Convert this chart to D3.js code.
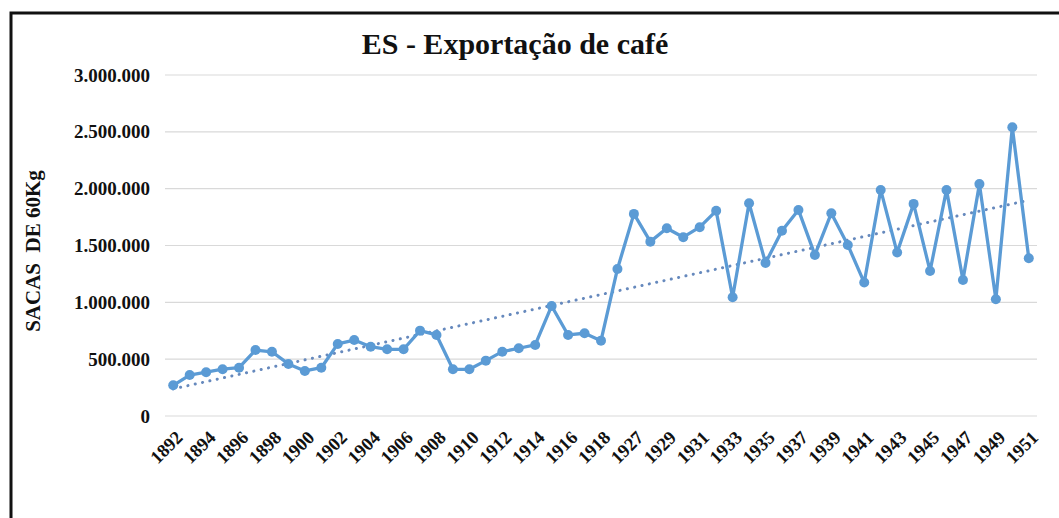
<!DOCTYPE html>
<html>
<head>
<meta charset="utf-8">
<script src="https://cdn.jsdelivr.net/npm/d3@7"></script>
<style>
  body { margin: 0; background: #fff; }
  text { font-family: "Liberation Serif", "Times New Roman", serif; font-weight: bold; fill: #111; }
</style>
</head>
<body>
<div id="chart"></div>
<script>
// Categories (years) and coffee exports in bags of 60 kg
const years = [
  "1892", "1893", "1894", "1895", "1896", "1897", "1898", "1899", "1900", "1901",
  "1902", "1903", "1904", "1905", "1906", "1907", "1908", "1909", "1910", "1911",
  "1912", "1913", "1914", "1915", "1916", "1917", "1918", "1919",
  "1927", "1928", "1929", "1930", "1931", "1932", "1933", "1934", "1935", "1936",
  "1937", "1938", "1939", "1940", "1941", "1942", "1943", "1944", "1945", "1946",
  "1947", "1948", "1949", "1950", "1951"
];
const sacas = [
  270000, 360000, 385000, 412000, 425000, 580000, 565000, 458000, 396000, 425000,
  634000, 668000, 610000, 587000, 587000, 751000, 713000, 411000, 411000, 487000,
  566000, 596000, 625000, 968000, 713000, 728000, 663000, 1294000,
  1778000, 1534000, 1652000, 1573000, 1661000, 1805000, 1045000, 1872000, 1347000, 1630000,
  1813000, 1417000, 1784000, 1505000, 1174000, 1989000, 1438000, 1866000, 1276000, 1989000,
  1197000, 2040000, 1027000, 2541000, 1388000
];
const yTicks = [0, 500000, 1000000, 1500000, 2000000, 2500000, 3000000];

const W = 1059, H = 518;
const svg = d3.select("#chart").append("svg")
    .attr("width", W)
    .attr("height", H);

// frame (only top and left edges fall inside the picture)
svg.append("rect")
    .attr("x", 11).attr("y", 13)
    .attr("width", 1200).attr("height", 800)
    .attr("fill", "none")
    .attr("stroke", "#111")
    .attr("stroke-width", 3);

const plot = { left: 165, right: 1037, top: 75, bottom: 416 };

const x = d3.scaleBand()
    .domain(years)
    .range([plot.left, plot.right]);

const y = d3.scaleLinear()
    .domain([0, 3000000])
    .range([plot.bottom, plot.top]);

const fmt = v => d3.format(",")(v).replace(/,/g, ".");

// gridlines
svg.append("g")
    .selectAll("line")
    .data(yTicks)
    .join("line")
    .attr("x1", plot.left).attr("x2", plot.right)
    .attr("y1", d => y(d)).attr("y2", d => y(d))
    .attr("stroke", "#d9d9d9")
    .attr("stroke-width", 1.2);

// y axis labels
svg.append("g")
    .selectAll("text")
    .data(yTicks)
    .join("text")
    .attr("x", 150)
    .attr("y", d => y(d))
    .attr("dy", "0.35em")
    .attr("text-anchor", "end")
    .style("font-size", "19px")
    .text(d => fmt(d));

// x axis labels, every other category
const cx = d => x(d) + x.bandwidth() / 2;
svg.append("g")
    .selectAll("text")
    .data(years.filter((d, i) => i % 2 === 0))
    .join("text")
    .attr("transform", d => `translate(${cx(d) + 6},${434}) rotate(-45)`)
    .attr("dy", "0.35em")
    .attr("text-anchor", "end")
    .style("font-size", "18.5px")
    .text(d => d);

// axis title
svg.append("text")
    .attr("transform", `translate(40,251) rotate(-90)`)
    .attr("text-anchor", "middle")
    .style("font-size", "21px")
    .style("white-space", "pre")
    .text("SACAS  DE 60Kg");

// chart title
svg.append("text")
    .attr("x", 515)
    .attr("y", 54)
    .attr("text-anchor", "middle")
    .style("font-size", "30px")
    .text("ES - Exportação de café");

// linear trendline over category index
const idx = sacas.map((d, i) => i);
const mx = d3.mean(idx), my = d3.mean(sacas);
const slope = d3.sum(idx, i => (i - mx) * (sacas[i] - my)) / d3.sum(idx, i => (i - mx) * (i - mx));
const icpt = my - slope * mx;
const last = years.length - 1;

svg.append("line")
    .attr("x1", cx(years[0])).attr("y1", y(icpt))
    .attr("x2", cx(years[last])).attr("y2", y(icpt + slope * last))
    .attr("stroke", "#6689bd")
    .attr("stroke-width", 3)
    .attr("stroke-linecap", "round")
    .attr("stroke-dasharray", "0.1,7.4");

// data line
const line = d3.line()
    .x((d, i) => cx(years[i]))
    .y(d => y(d));

svg.append("path")
    .datum(sacas)
    .attr("d", line)
    .attr("fill", "none")
    .attr("stroke", "#5b9bd5")
    .attr("stroke-width", 3.3)
    .attr("stroke-linejoin", "round");

svg.append("g")
    .selectAll("circle")
    .data(sacas)
    .join("circle")
    .attr("cx", (d, i) => cx(years[i]))
    .attr("cy", d => y(d))
    .attr("r", 5)
    .attr("fill", "#5b9bd5");
</script>
</body>
</html>
